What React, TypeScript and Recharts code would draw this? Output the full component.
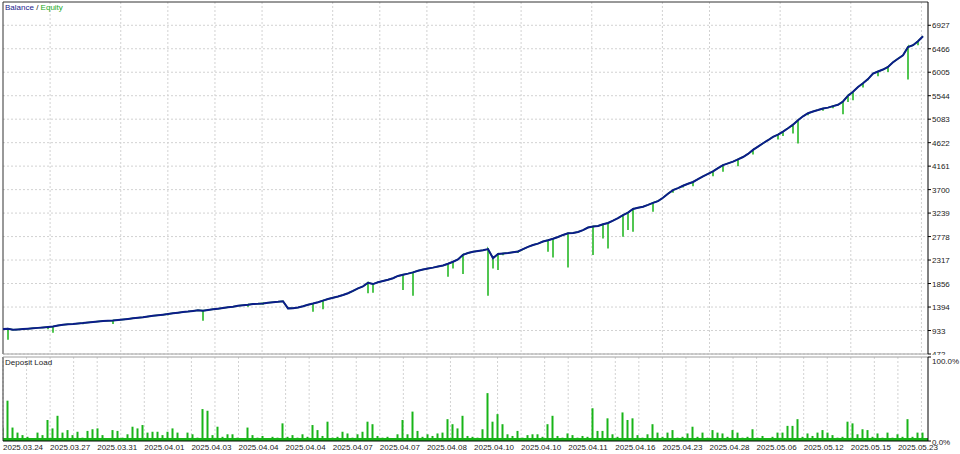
import React from 'react';
import {
  ComposedChart,
  BarChart,
  Bar,
  Line,
  XAxis,
  YAxis,
  CartesianGrid,
  ReferenceLine,
  ReferenceArea,
} from 'recharts';

// balance after each deal group
const balance = [
  965, 968, 948, 955, 962, 968, 976, 985, 994, 1003,
  1012, 1030, 1045, 1056, 1062, 1072, 1080, 1092, 1100, 1108,
  1118, 1125, 1130, 1140, 1150, 1160, 1172, 1183, 1195, 1210,
  1222, 1232, 1244, 1258, 1270, 1284, 1295, 1305, 1318, 1330,
  1322, 1335, 1350, 1362, 1375, 1388, 1400, 1418, 1430, 1440,
  1453, 1458, 1466, 1478, 1488, 1496, 1508, 1368, 1370, 1385,
  1410, 1440, 1462, 1488, 1520, 1552, 1575, 1600, 1630, 1665,
  1710, 1760, 1800, 1870, 1845, 1880, 1905, 1930, 1960, 2005,
  2030, 2050, 2075, 2105, 2130, 2150, 2168, 2190, 2210, 2245,
  2283, 2330, 2420, 2455, 2479, 2495, 2510, 2532, 2355, 2434,
  2445, 2455, 2470, 2485, 2530, 2575, 2611, 2640, 2680, 2705,
  2735, 2770, 2810, 2842, 2850, 2868, 2905, 2955, 2975, 2985,
  3020, 3045, 3090, 3140, 3199, 3250, 3320, 3345, 3365, 3400,
  3440, 3475, 3540, 3620, 3690, 3730, 3775, 3815, 3850, 3905,
  3960, 4010, 4060, 4120, 4180, 4215, 4250, 4295, 4340, 4400,
  4480, 4545, 4610, 4670, 4736, 4780, 4840, 4905, 4975, 5063,
  5140, 5200, 5235, 5262, 5292, 5310, 5340, 5365, 5430, 5545,
  5620, 5715, 5790, 5870, 5979, 6020, 6058, 6110, 6200, 6270,
  6338, 6500, 6535, 6615, 6710,
];

// equity drawdown spikes: where and how low
const dipIndex = [
  1, 9, 10, 16, 22, 33, 40, 49, 52, 62,
  64, 73, 74, 80, 82, 89, 90, 92, 97, 98,
  99, 100, 103, 109, 110, 113, 118, 120, 121, 124,
  125, 126, 130, 134, 136, 138, 142, 144, 147, 150,
  155, 156, 158, 159, 161, 164, 166, 168, 169, 170,
  172, 173, 175, 177, 181, 183,
];
const dipValue = [
  750, 960, 890, 1055, 1060, 1235, 1125, 1400, 1440, 1302,
  1349, 1663, 1675, 1728, 1616, 1989, 2150, 2042, 1616, 2153,
  2120, 2410, 2455, 2479, 2369, 2173, 2414, 2742, 2546, 2773,
  2905, 2872, 3264, 3640, 3740, 3768, 3964, 4049, 4161, 4389,
  4683, 4755, 4800, 4606, 5160, 5250, 5300, 5180, 5422, 5455,
  5705, 5848, 5926, 6011, 5860, 6535,
];

// deposit load, %
const depositLoad = [
  16, 48, 16, 10, 7, 5, 3, 10, 7, 25,
  15, 30, 10, 13, 7, 11, 4, 12, 14, 15,
  7, 3, 13, 12, 4, 8, 17, 15, 19, 10,
  11, 11, 7, 11, 15, 10, 3, 10, 8, 4,
  38, 36, 7, 17, 5, 8, 8, 4, 3, 16,
  7, 4, 6, 3, 5, 4, 21, 5, 7, 4,
  8, 5, 19, 13, 6, 23, 4, 5, 11, 9,
  4, 8, 11, 23, 20, 6, 4, 5, 3, 8,
  25, 8, 35, 12, 5, 8, 6, 9, 10, 26,
  20, 15, 30, 6, 5, 4, 14, 57, 23, 32,
  20, 8, 6, 12, 4, 7, 8, 8, 5, 20,
  30, 6, 4, 9, 7, 4, 6, 5, 39, 12,
  12, 27, 8, 5, 34, 25, 27, 7, 4, 8,
  20, 10, 5, 10, 13, 4, 5, 9, 17, 5,
  10, 4, 13, 10, 9, 5, 13, 10, 4, 5,
  14, 4, 6, 3, 5, 10, 10, 18, 18, 26,
  5, 9, 6, 10, 13, 10, 7, 4, 5, 23,
  21, 8, 14, 13, 5, 9, 4, 10, 4, 8,
  5, 26, 5, 10, 10,
];

const dateLabels = [
  '2025.03.24', '2025.03.27', '2025.03.31', '2025.04.01', '2025.04.03',
  '2025.04.04', '2025.04.04', '2025.04.07', '2025.04.07', '2025.04.08',
  '2025.04.10', '2025.04.10', '2025.04.11', '2025.04.16', '2025.04.23',
  '2025.04.28', '2025.05.06', '2025.05.12', '2025.05.15', '2025.05.23',
];

const balanceTicks = [472, 933, 1394, 1856, 2317, 2778, 3239, 3700, 4161, 4622, 5083, 5544, 6005, 6466, 6927];
const loadTicks = [0, 100];

const SPAN = 185;
const Y_TOP = 7384;
const GRID_STEP = 4.71;
const FONT = '"Liberation Sans", Arial, sans-serif';
const BAL_COLOR = '#0c1c8a';
const EQ_COLOR = '#18b418';

const balanceRows = balance.map((v, i) => ({ n: i, balance: v }));
const equityRows: { n: number; equity: number }[] = [];
balance.forEach((v, i) => {
  equityRows.push({ n: i, equity: v });
  const k = dipIndex.indexOf(i);
  if (k >= 0) {
    equityRows.push({ n: i, equity: dipValue[k] });
    equityRows.push({ n: i, equity: v });
  }
});
const loadRows = depositLoad.map((v, i) => ({ n: i, load: v }));
const gridX = Array.from({ length: 40 }, (_, k) => k * GRID_STEP);
const labelX = dateLabels.map((_, k) => k * GRID_STEP * 2);

const RightTick = ({ x, y, payload, suffix, shift }: any) => (
  <text x={x} y={y + (shift ? shift(payload.value) : 0)} dy={3} fontSize={8} fill="#222" fontFamily={FONT} textAnchor="start">
    {suffix ? payload.value.toFixed(1) + suffix : payload.value}
  </text>
);

const DateTick = ({ x, y, index }: any) => (
  <text x={x} y={y + 9} fontSize={8} fill="#222" fontFamily={FONT} textAnchor="start">
    {dateLabels[index]}
  </text>
);

export default function App() {
  return (
    <div style={{ position: 'fixed', left: 0, top: 0, width: 960, height: 454, background: '#fff', fontFamily: FONT }}>
      <ComposedChart width={960} height={356} data={balanceRows} margin={{ top: 2, right: 0, left: 3, bottom: 2 }}>
        <CartesianGrid stroke="#d2d2d2" strokeDasharray="2 2" verticalValues={gridX} horizontalValues={balanceTicks} />
        <XAxis type="number" dataKey="n" domain={[0, SPAN]} hide allowDataOverflow />
        <YAxis
          orientation="right"
          width={32}
          domain={[472, Y_TOP]}
          ticks={balanceTicks}
          interval={0}
          tickSize={3}
          tickMargin={1}
          axisLine={{ stroke: '#000' }}
          tickLine={{ stroke: '#000' }}
          tick={<RightTick />}
          allowDataOverflow
        />
        <ReferenceLine x={0} stroke="#333" />
        <ReferenceLine y={Y_TOP} stroke="#333" />
        <ReferenceLine y={472} stroke="#a0a0a0" />
        <Line data={equityRows} type="linear" dataKey="equity" stroke={EQ_COLOR} strokeWidth={1.5} dot={false} isAnimationActive={false} />
        <Line type="linear" dataKey="balance" stroke={BAL_COLOR} strokeWidth={2} dot={false} isAnimationActive={false} />
      </ComposedChart>
      <div style={{ position: 'absolute', left: 5, top: 3, fontSize: 8, lineHeight: '10px' }}>
        <span style={{ color: '#1a1a8c' }}>Balance</span>
        <span style={{ color: '#222' }}> / </span>
        <span style={{ color: '#22aa22' }}>Equity</span>
      </div>
      <div style={{ position: 'absolute', left: 0, top: 355, background: '#fff' }}>
        <BarChart width={960} height={99} data={loadRows} margin={{ top: 2, right: 0, left: 3, bottom: 0 }}>
          <CartesianGrid stroke="#d2d2d2" strokeDasharray="2 2" horizontal={false} verticalValues={gridX} />
          <XAxis
            type="number"
            dataKey="n"
            domain={[0, SPAN]}
            ticks={labelX}
            interval={0}
            height={13}
            tickSize={0}
            tickMargin={0}
            axisLine={{ stroke: '#000' }}
            tick={<DateTick />}
            allowDataOverflow
          />
          <YAxis
            orientation="right"
            width={32}
            domain={[0, 100]}
            ticks={loadTicks}
            interval={0}
            tickSize={3}
            tickMargin={1}
            axisLine={{ stroke: '#000' }}
            tickLine={{ stroke: '#000' }}
            tick={<RightTick suffix="%" shift={(v: number) => (v === 100 ? 4 : 1)} />}
          />
          <ReferenceArea y1={0} y2={3.5} fill={EQ_COLOR} fillOpacity={1} stroke="none" />
          <ReferenceLine x={0} stroke="#333" />
          <ReferenceLine y={100} stroke="#a0a0a0" />
          <Bar dataKey="load" fill={EQ_COLOR} barSize={2} isAnimationActive={false} />
        </BarChart>
        <div style={{ position: 'absolute', left: 5, top: 3, fontSize: 8, lineHeight: '10px', color: '#222' }}>Deposit Load</div>
      </div>
    </div>
  );
}
